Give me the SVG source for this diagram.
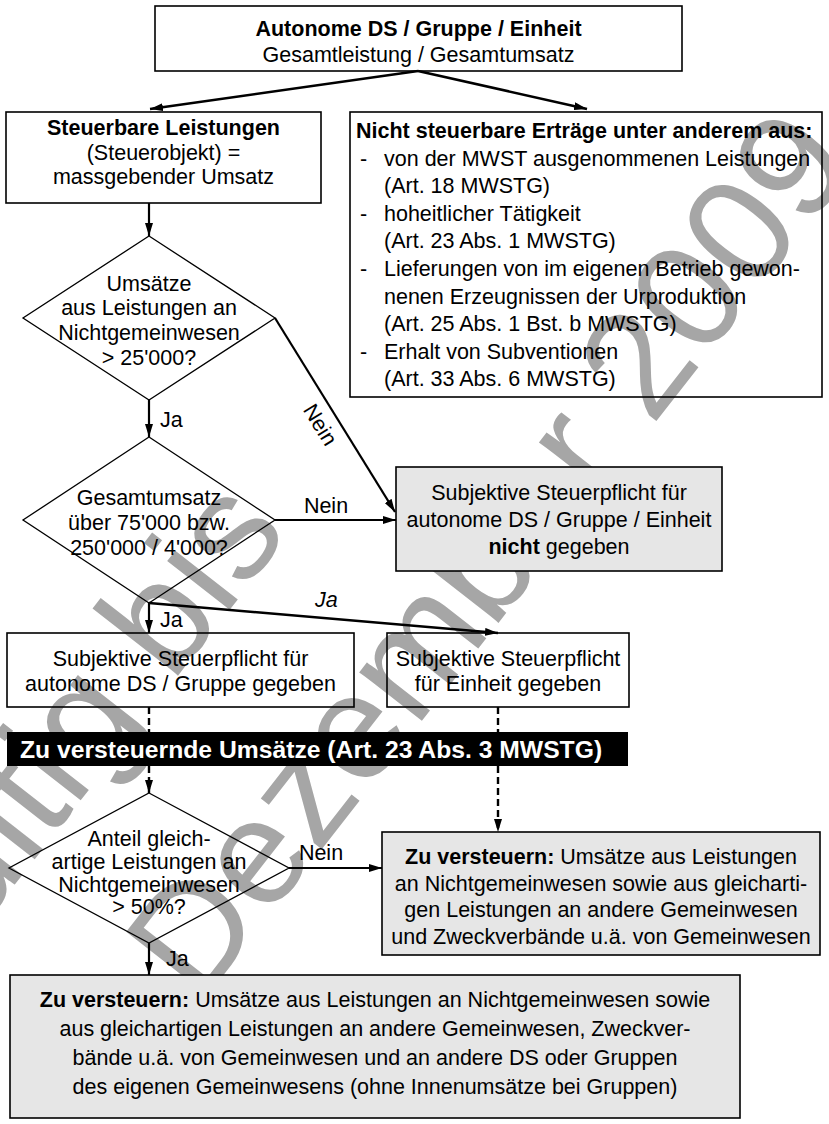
<svg xmlns="http://www.w3.org/2000/svg" width="829" height="1124" viewBox="0 0 829 1124">
<style>
text{font-family:"Liberation Sans",Arial,sans-serif;font-size:21.5px;fill:#000}
.c{text-anchor:middle}
.b{font-weight:bold}
.box{fill:none;stroke:#000;stroke-width:1.6}
.gbox{fill:#e6e6e6;stroke:#000;stroke-width:1.6}
.dia{fill:none;stroke:#000;stroke-width:1.3}
.ln{fill:none;stroke:#000;stroke-width:2.2}
.thick{fill:none;stroke:#000;stroke-width:2.6}
.dash{fill:none;stroke:#000;stroke-width:2.4;stroke-dasharray:7 4}
.wm{font-size:150px;fill:#a6a6a6}
</style>
<defs>
<marker id="ah" markerUnits="userSpaceOnUse" markerWidth="13" markerHeight="8" refX="13" refY="4" orient="auto">
<path d="M0,0 L13,4 L0,8 z" fill="#000"/>
</marker>
</defs>
<rect x="0" y="0" width="829" height="1124" fill="#fff"/>
<g id="watermark" transform="translate(200,1005) rotate(-52)">
<text class="wm" x="-164" y="-220">gültig bis</text>
<text class="wm" x="0" y="0">Dezember 2009</text>
</g>
<g id="connectors">
<path class="thick" d="M418,71 L150,109" marker-end="url(#ah)"/>
<path class="thick" d="M418,71 L587,109" marker-end="url(#ah)"/>
<path class="ln" d="M149,203 L149,236" marker-end="url(#ah)"/>
<path class="ln" d="M149,400 L149,437" marker-end="url(#ah)"/>
<text x="160" y="427">Ja</text>
<path class="ln" d="M275,318 L395,512" marker-end="url(#ah)"/>
<text class="c" transform="translate(320,425) rotate(58.3)" x="0" y="7">Nein</text>
<path class="ln" d="M275,520 L396,520" marker-end="url(#ah)"/>
<text class="c" x="326" y="513">Nein</text>
<path class="ln" d="M149,603 L149,633" marker-end="url(#ah)"/>
<text x="160" y="627">Ja</text>
<path class="thick" d="M149,603 L498,633" marker-end="url(#ah)"/>
<text x="315" y="607" font-style="italic">Ja</text>
<path class="dash" d="M149,707 L149,732"/>
<path class="dash" d="M498,707 L498,732"/>
<path class="dash" d="M149,766 L149,793" marker-end="url(#ah)"/>
<path class="dash" d="M498,766 L498,832" marker-end="url(#ah)"/>
<path class="ln" d="M289,868 L382,868" marker-end="url(#ah)"/>
<text class="c" x="321" y="860">Nein</text>
<path class="ln" d="M149,943 L149,975" marker-end="url(#ah)"/>
<text x="166" y="966">Ja</text>
</g>
<g id="top">
<rect class="box" x="155" y="6" width="527" height="65"/>
<text class="c b" x="418.5" y="36">Autonome DS / Gruppe / Einheit</text>
<text class="c" x="418.5" y="62">Gesamtleistung / Gesamtumsatz</text>
</g>
<g id="steuerbar">
<rect class="box" x="6" y="112" width="315" height="91"/>
<text class="c b" x="163.5" y="135">Steuerbare Leistungen</text>
<text class="c" x="163.5" y="159.5">(Steuerobjekt) =</text>
<text class="c" x="163.5" y="184">massgebender Umsatz</text>
</g>
<g id="nichtsteuerbar">
<rect class="box" x="350" y="112" width="472" height="285"/>
<text class="b" x="356" y="138">Nicht steuerbare Erträge unter anderem aus:</text>
<text x="360" y="165.6">-</text><text x="384" y="165.6">von der MWST ausgenommenen Leistungen</text>
<text x="384" y="193.2">(Art. 18 MWSTG)</text>
<text x="360" y="220.8">-</text><text x="384" y="220.8">hoheitlicher Tätigkeit</text>
<text x="384" y="248.4">(Art. 23 Abs. 1 MWSTG)</text>
<text x="360" y="276">-</text><text x="384" y="276">Lieferungen von im eigenen Betrieb gewon-</text>
<text x="384" y="303.6">nenen Erzeugnissen der Urproduktion</text>
<text x="384" y="331.2">(Art. 25 Abs. 1 Bst. b MWSTG)</text>
<text x="360" y="358.8">-</text><text x="384" y="358.8">Erhalt von Subventionen</text>
<text x="384" y="386.4">(Art. 33 Abs. 6 MWSTG)</text>
</g>
<g id="d1">
<polygon class="dia" points="149,236 275,318 149,400 23,318"/>
<text class="c" x="149" y="290.5">Umsätze</text>
<text class="c" x="149" y="314.5">aus Leistungen an</text>
<text class="c" x="149" y="339.5">Nichtgemeinwesen</text>
<text class="c" x="149" y="364.5">&gt; 25'000?</text>
</g>
<g id="d2">
<polygon class="dia" points="149,437 275,520 149,603 23,520"/>
<text class="c" x="149" y="504.5">Gesamtumsatz</text>
<text class="c" x="149" y="529.5">über 75'000 bzw.</text>
<text class="c" x="149" y="554.5">250'000 / 4'000?</text>
</g>
<g id="nicht">
<rect class="gbox" x="396" y="467" width="326" height="104"/>
<text class="c" x="559" y="500">Subjektive Steuerpflicht für</text>
<text class="c" x="559" y="527">autonome DS / Gruppe / Einheit</text>
<text class="c" x="559" y="554"><tspan class="b">nicht</tspan> gegeben</text>
</g>
<g id="dsgruppe">
<rect class="box" x="7" y="633" width="347" height="74"/>
<text class="c" x="180.5" y="666">Subjektive Steuerpflicht für</text>
<text class="c" x="180.5" y="691">autonome DS / Gruppe gegeben</text>
</g>
<g id="einheit">
<rect class="box" x="387" y="633" width="242" height="74"/>
<text class="c" x="508" y="666">Subjektive Steuerpflicht</text>
<text class="c" x="508" y="691">für Einheit gegeben</text>
</g>
<g id="bar">
<rect x="7" y="732" width="621" height="34" fill="#000"/>
<text class="b" x="20" y="757.5" style="fill:#fff;font-size:24.7px">Zu versteuernde Umsätze (Art. 23 Abs. 3 MWSTG)</text>
</g>
<g id="d3">
<polygon class="dia" points="149,793 289,868 149,943 9,868"/>
<text class="c" x="149" y="846">Anteil gleich-</text>
<text class="c" x="149" y="869">artige Leistungen an</text>
<text class="c" x="149" y="891.5">Nichtgemeinwesen</text>
<text class="c" x="149" y="914">&gt; 50%?</text>
</g>
<g id="versteuern1">
<rect class="gbox" x="382" y="832" width="438" height="123"/>
<text class="c" x="601" y="864"><tspan class="b">Zu versteuern:</tspan> Umsätze aus Leistungen</text>
<text class="c" x="601" y="890.5">an Nichtgemeinwesen sowie aus gleicharti-</text>
<text class="c" x="601" y="917">gen Leistungen an andere Gemeinwesen</text>
<text class="c" x="601" y="943.5">und Zweckverbände u.ä. von Gemeinwesen</text>
</g>
<g id="versteuern2">
<rect class="gbox" x="10" y="975" width="730" height="143"/>
<text class="c" x="375" y="1007"><tspan class="b">Zu versteuern:</tspan><tspan dx="6">Umsätze aus Leistungen an Nichtgemeinwesen sowie</tspan></text>
<text class="c" x="375" y="1036">aus gleichartigen Leistungen an andere Gemeinwesen, Zweckver-</text>
<text class="c" x="375" y="1065">bände u.ä. von Gemeinwesen und an andere DS oder Gruppen</text>
<text class="c" x="375" y="1094">des eigenen Gemeinwesens (ohne Innenumsätze bei Gruppen)</text>
</g>
</svg>
